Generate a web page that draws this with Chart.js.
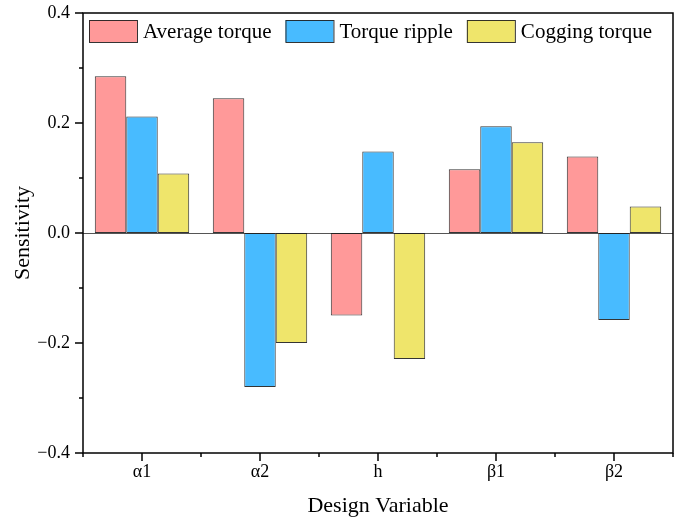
<!DOCTYPE html>
<html><head><meta charset="utf-8">
<script src="https://cdn.jsdelivr.net/npm/chart.js@4.4.0/dist/chart.umd.min.js"></script>
<style>html,body{margin:0;padding:0;background:#fff}#wrap{width:680px;height:520px}</style>
</head><body><div id="wrap"><canvas id="c" width="680" height="520"></canvas></div>
<script>
const categories = ['α1', 'α2', 'h', 'β1', 'β2'];
const averageTorque = [0.285, 0.245, -0.150, 0.116, 0.139];
const torqueRipple = [0.212, -0.280, 0.148, 0.194, -0.158];
const coggingTorque = [0.108, -0.200, -0.229, 0.165, 0.048];
const seriesNames = ['Average torque', 'Torque ripple', 'Cogging torque'];
const yTickValues = [-0.4, -0.3, -0.2, -0.1, 0, 0.1, 0.2, 0.3, 0.4];
const yTickLabels = ['−0.4', '', '−0.2', '', '0.0', '', '0.2', '', '0.4'];

const FONT = '"Liberation Serif", "Times New Roman", serif';
const colors = ['#FF9999', '#48BBFF', '#EFE56B'];
const edge = 'rgba(30,30,30,0.9)';

const framePlugin = {
  id: 'frame',
  beforeDatasetsDraw(chart) {
    const {ctx, chartArea: a, scales: {y}} = chart;
    ctx.save();
    ctx.strokeStyle = '#555';
    ctx.lineWidth = 1;
    const y0 = Math.round(y.getPixelForValue(0)) + 0.5;
    ctx.beginPath(); ctx.moveTo(a.left, y0); ctx.lineTo(a.right, y0); ctx.stroke();
    ctx.restore();
  },
  afterDraw(chart) {
    const {ctx, chartArea: a, scales: {x, y}} = chart;
    ctx.save();
    ctx.strokeStyle = '#000';
    ctx.lineWidth = 1.5;
    ctx.strokeRect(a.left, a.top, a.right - a.left, a.bottom - a.top);
    yTickValues.forEach((v, i) => {
      const py = y.getPixelForValue(v);
      const len = yTickLabels[i] ? 8 : 4;
      ctx.beginPath(); ctx.moveTo(a.left, py); ctx.lineTo(a.left - len, py); ctx.stroke();
    });
    const n = categories.length;
    const w = (a.right - a.left) / n;
    for (let i = 0; i < n; i++) {
      const px = x.getPixelForValue(i);
      ctx.beginPath(); ctx.moveTo(px, a.bottom); ctx.lineTo(px, a.bottom + 8); ctx.stroke();
    }
    for (let i = 0; i <= n; i++) {
      const px = a.left + i * w;
      ctx.beginPath(); ctx.moveTo(px, a.bottom); ctx.lineTo(px, a.bottom + 4); ctx.stroke();
    }
    ctx.font = '21px ' + FONT;
    ctx.textBaseline = 'middle';
    ctx.textAlign = 'left';
    let lx = a.left + 6;
    const ly = a.top + 7, bh = 22, bw = 48;
    chart.data.datasets.forEach((ds) => {
      ctx.fillStyle = ds.backgroundColor;
      ctx.fillRect(lx, ly, bw, bh);
      ctx.lineWidth = 1;
      ctx.strokeStyle = edge;
      ctx.strokeRect(lx + 0.5, ly + 0.5, bw, bh);
      ctx.fillStyle = '#000';
      ctx.fillText(ds.label, lx + bw + 6, ly + bh / 2 + 1);
      lx += bw + 6 + ctx.measureText(ds.label).width + 14;
    });
    ctx.restore();
  }
};

new Chart(document.getElementById('c'), {
  type: 'bar',
  data: {
    labels: categories,
    datasets: [
      {label: seriesNames[0], data: averageTorque, backgroundColor: colors[0]},
      {label: seriesNames[1], data: torqueRipple, backgroundColor: colors[1]},
      {label: seriesNames[2], data: coggingTorque, backgroundColor: colors[2]}
    ].map(d => Object.assign(d, {borderColor: edge, borderWidth: 1, borderSkipped: false,
      categoryPercentage: 0.8, barPercentage: 1.0}))
  },
  options: {
    responsive: false,
    animation: false,
    layout: {padding: {top: 0, right: 7, left: 0, bottom: 0}},
    plugins: {legend: {display: false}, tooltip: {enabled: false}},
    scales: {
      x: {
        grid: {display: false, drawTicks: false},
        border: {display: false},
        ticks: {color: '#000', padding: 8, font: {family: FONT, size: 18}},
        title: {display: true, text: 'Design Variable', color: '#000',
          font: {family: FONT, size: 22}, padding: {top: 0, bottom: 1}},
        afterFit(s) { s.height = 67; }
      },
      y: {
        min: -0.4, max: 0.4,
        grid: {display: false, drawTicks: false},
        border: {display: false},
        afterBuildTicks(s) { s.ticks = yTickValues.map(v => ({value: v})); },
        ticks: {color: '#000', padding: 13, font: {family: FONT, size: 18},
          callback(v, i) { return yTickLabels[i]; }},
        title: {display: true, text: 'Sensitivity', color: '#000',
          font: {family: FONT, size: 22}, padding: {top: 10, bottom: 0}},
        afterFit(s) { s.width = 83; s.paddingTop = 13; s.paddingBottom = 0; }
      }
    }
  },
  plugins: [framePlugin]
});
</script></body></html>
